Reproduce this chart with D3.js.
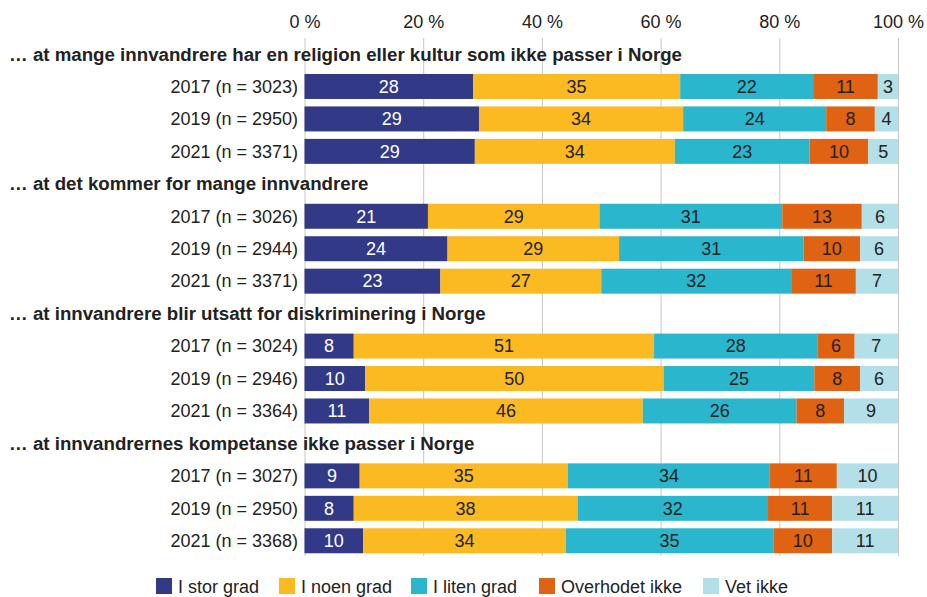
<!DOCTYPE html>
<html>
<head>
<meta charset="utf-8">
<script src="https://cdn.jsdelivr.net/npm/d3@7"></script>
<style>
    body { margin: 0; background: #fff; }
    svg text { font-family: "Liberation Sans", Arial, sans-serif; fill: #222; }
</style>
</head>
<body>
<div class="viz"></div>
<script>
var width = 927,
    height = 597;

// answer categories (stack order)
const categories = ["I stor grad", "I noen grad", "I liten grad", "Overhodet ikke", "Vet ikke"];
const colors = ["#323a87", "#fbba21", "#2ab7ce", "#df6312", "#b3dfe9"];

// statements
const questions = [
    "\u2026 at mange innvandrere har en religion eller kultur som ikke passer i Norge",
    "\u2026 at det kommer for mange innvandrere",
    "\u2026 at innvandrere blir utsatt for diskriminering i Norge",
    "\u2026 at innvandrernes kompetanse ikke passer i Norge",
];

const years = ["2017", "2019", "2021"];
const sampleSizes = [
    [3023, 2950, 3371],
    [3026, 2944, 3371],
    [3024, 2946, 3364],
    [3027, 2950, 3368],
];

// percentages per question, per year, in category order
const religionValues = [
    [28.4, 34.9, 22.4, 10.9, 3.4],
    [29.4, 34.4, 24.1, 8.2, 3.9],
    [28.7, 33.7, 22.7, 9.9, 5.0],
];
const tooManyValues = [
    [20.8, 28.9, 30.8, 13.4, 6.1],
    [24.1, 28.9, 31.1, 9.5, 6.4],
    [22.9, 27.1, 32.0, 10.9, 7.1],
];
const discriminationValues = [
    [8.3, 50.6, 27.5, 6.3, 7.3],
    [10.2, 50.3, 25.4, 7.7, 6.4],
    [10.9, 46.1, 25.9, 8.0, 9.1],
];
const competenceValues = [
    [9.3, 35.1, 34.0, 11.3, 10.3],
    [8.3, 37.7, 32.1, 10.8, 11.1],
    [9.9, 34.1, 35.0, 9.9, 11.1],
];
const allValues = [religionValues, tooManyValues, discriminationValues, competenceValues];

const xTicks = [0, 20, 40, 60, 80, 100];

// build rows: a header row followed by three bar rows per question
var rows = [];
questions.forEach((q, qi) => {
    rows.push({ key: "h" + qi, header: q });
    years.forEach((yr, yi) => {
        var r = { key: "b" + qi + "_" + yi, label: `${yr} (n = ${sampleSizes[qi][yi]})` };
        categories.forEach((c, ci) => (r[c] = allValues[qi][yi][ci]));
        rows.push(r);
    });
});
var barRows = rows.filter((r) => !r.header);

var x = d3.scaleLinear().domain([0, 100]).range([304.5, 898]);
var y = d3
    .scaleBand()
    .domain(rows.map((r) => r.key))
    .range([37.8, 557])
    .paddingInner(0.23)
    .paddingOuter(0.115);

var svg = d3
    .select(".viz")
    .append("svg")
    .attr("width", width)
    .attr("height", height);

/**
 * Axis + gridlines
 */
var gridTop = 38,
    gridBottom = 556;
var axis = svg
    .append("g")
    .attr("class", "x-axis")
    .attr("transform", `translate(0,${gridTop})`)
    .call(
        d3
            .axisTop(x)
            .tickValues(xTicks)
            .tickSize(-(gridBottom - gridTop))
            .tickPadding(10)
            .tickFormat((d) => d + " %")
    );
axis.select(".domain").remove();
axis.selectAll("line").attr("stroke", "#c6c6c6");
axis.selectAll("text")
    .attr("font-size", 18)
    .attr("fill", "#222")
    .style("font-family", '"Liberation Sans", Arial, sans-serif');

/**
 * Stacked bars
 */
var series = d3.stack().keys(categories)(barRows);

var layers = svg
    .append("g")
    .selectAll("g")
    .data(series)
    .enter()
    .append("g")
    .attr("fill", (d, i) => colors[i]);

layers
    .selectAll("rect")
    .data((d) => d)
    .enter()
    .append("rect")
    .attr("x", (d) => x(d[0]))
    .attr("y", (d) => y(d.data.key))
    .attr("width", (d) => x(d[1]) - x(d[0]))
    .attr("height", y.bandwidth());

layers
    .selectAll("text")
    .data((d, i) => d.map((e) => ({ e: e, i: i })))
    .enter()
    .append("text")
    .attr("x", (d) => (x(d.e[0]) + x(d.e[1])) / 2)
    .attr("y", (d) => y(d.e.data.key) + y.bandwidth() / 2)
    .attr("dy", "0.35em")
    .attr("text-anchor", "middle")
    .attr("font-size", 18)
    .style("fill", (d) => (d.i === 0 ? "#fff" : "#222"))
    .text((d) => Math.round(d.e[1] - d.e[0]));

/**
 * Row labels and statement headers
 */
svg.append("g")
    .selectAll("text")
    .data(barRows)
    .enter()
    .append("text")
    .attr("x", 298)
    .attr("y", (d) => y(d.key) + y.bandwidth() / 2)
    .attr("dy", "0.35em")
    .attr("text-anchor", "end")
    .attr("font-size", 18)
    .text((d) => d.label);

svg.append("g")
    .selectAll("text")
    .data(rows.filter((r) => r.header))
    .enter()
    .append("text")
    .attr("x", 9)
    .attr("y", (d) => y(d.key) + y.bandwidth() / 2)
    .attr("dy", "0.35em")
    .attr("font-size", 18.7)
    .attr("font-weight", "bold")
    .text((d) => d.header);

/**
 * Legend
 */
const legendX = [156, 279, 411, 539, 703];
var legend = svg
    .append("g")
    .selectAll("g")
    .data(categories)
    .enter()
    .append("g")
    .attr("transform", (d, i) => `translate(${legendX[i]},578)`);

legend
    .append("rect")
    .attr("width", 16)
    .attr("height", 16)
    .attr("fill", (d, i) => colors[i]);

legend
    .append("text")
    .attr("x", 22)
    .attr("y", 15)
    .attr("font-size", 18)
    .text((d) => d);
</script>
</body>
</html>
